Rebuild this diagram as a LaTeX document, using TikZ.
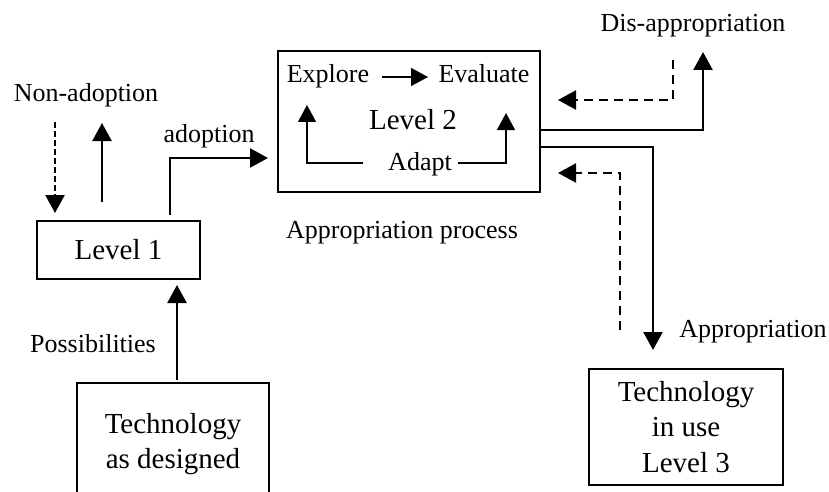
\documentclass[tikz,border=0pt]{standalone}
\usepackage{fontspec}
\setmainfont{Liberation Serif}
\usetikzlibrary{arrows.meta}
\begin{document}
\begin{tikzpicture}[x=1pt,y=-1pt,
  box/.style={draw,line width=2.8pt,inner sep=0pt,align=center},
  big/.style={font=\fontsize{29}{35.5}\selectfont},
  small/.style={font=\fontsize{26}{30}\selectfont},
  lbl/.style={small,anchor=base,inner sep=0pt},
  arr/.style={line width=2.4pt,-{Triangle[length=18pt,width=19pt]}},
  thinarr/.style={line width=1.4pt,-{Triangle[length=17pt,width=18pt]}},
  dsh/.style={arr,dash pattern=on 9pt off 6pt},
  dshs/.style={arr,dash pattern=on 6pt off 3pt}]
\clip (0,0) rectangle (829,492);
% boxes
\node[box,big,minimum width=163pt,minimum height=58pt] (L1) at (118.5,250) {Level 1};
\node[box,minimum width=262pt,minimum height=141pt] (L2) at (409,121.5) {};
\node[box,big,minimum width=192pt,minimum height=122pt] (TD) at (173,444) {Technology\\as designed};
\node[box,big,minimum width=194pt,minimum height=116pt] (TU) at (686,427) {Technology\\in use\\Level 3};
% texts inside level 2
\node[lbl] (explore) at (328,83) {Explore};
\node[lbl] (evaluate) at (484,83) {Evaluate};
\node[lbl,big] (lev2) at (413,129) {Level 2};
\node[lbl] (adapt) at (420,170) {Adapt};
% labels
\node[lbl] (nonad) at (86,102) {Non-adoption};
\node[lbl] (adop) at (209,142) {adoption};
\node[lbl] (poss) at (93,352) {Possibilities};
\node[lbl] (approc) at (402,238) {Appropriation process};
\node[lbl] (disap) at (693,32) {Dis-appropriation};
\node[lbl] (approp) at (753,337) {Appropriation};
% coordinates
\coordinate (na1) at (55,122); \coordinate (na2) at (55,213);
\coordinate (nb1) at (102,202); \coordinate (nb2) at (102,123);
\coordinate (ad1) at (170,215); \coordinate (ad2) at (268,158);
\coordinate (ps1) at (177,380); \coordinate (ps2) at (177,285);
\coordinate (ex1) at (382,77); \coordinate (ex2) at (428,77);
\coordinate (aa1) at (363,163); \coordinate (aa2) at (307,105);
\coordinate (ab1) at (458,163); \coordinate (ab2) at (506,113);
\coordinate (d1a) at (540,130); \coordinate (d1b) at (703,52);
\coordinate (e1a) at (673,60); \coordinate (e1b) at (558,100);
\coordinate (d2a) at (540,147); \coordinate (d2b) at (653,350);
\coordinate (e2a) at (620,330); \coordinate (e2b) at (558,173);
% connectors
\draw[dshs] (na1) -- (na2);
\draw[arr] (nb1) -- (nb2);
\draw[arr] (ad1) |- (ad2);
\draw[arr] (ps1) -- (ps2);
\draw[thinarr] (ex1) -- (ex2);
\draw[thinarr] (aa1) -| (aa2);
\draw[thinarr] (ab1) -| (ab2);
\draw[arr] (d1a) -| (d1b);
\draw[dsh] (e1a) |- (e1b);
\draw[arr] (d2a) -| (d2b);
\draw[dsh] (e2a) |- (e2b);
\end{tikzpicture}
\end{document}
